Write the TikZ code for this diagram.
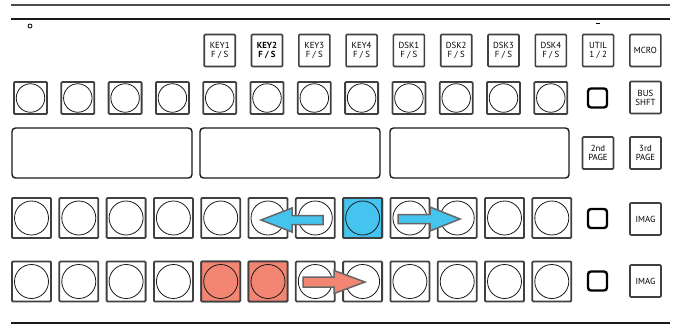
\documentclass[tikz,border=0pt]{standalone}
\usepackage{fontspec}
\setmainfont{PT Sans}
\begin{document}
\begin{tikzpicture}[x=1pt,y=-1pt,
  btnframe/.style={draw=black!75, line width=1.8pt, rounded corners=1pt, fill=white, inner sep=0pt},
  btnring/.style={circle, draw=black!90, line width=0.8pt, inner sep=0pt},
  txtbtn/.style={draw=black!75, line width=1.6pt, rounded corners=1pt, fill=white, inner sep=0pt,
     minimum width=31pt, minimum height=32pt, align=center,
     font=\fontsize{8.8}{9}\selectfont},
  smallsq/.style={draw=black, line width=2.4pt, rounded corners=3pt, inner sep=0pt,
     minimum width=19pt, minimum height=19pt},
  display/.style={draw=black!90, line width=1.4pt, rounded corners=3.5pt, inner sep=0pt},
  rule/.style={line width=2pt, draw=black!90},
  blockarrow/.style={draw=black!60, line width=1.5pt, line join=miter},
  bluefill/.style={fill=skyblue},
  redfill/.style={fill=salmonred}]
\definecolor{skyblue}{HTML}{44C4EF}
\definecolor{salmonred}{HTML}{F28672}
\useasboundingbox (0,0) rectangle (677,325);
% top and bottom rules
\coordinate (t1l) at (11,5); \coordinate (t1r) at (670,5);
\coordinate (t2l) at (11,18.5); \coordinate (t2r) at (670,18.5);
\coordinate (bl) at (11,323); \coordinate (br) at (670,323);
\draw[rule, line width=2.6pt, draw=black!70] (t1l) -- (t1r);
\draw[rule] (t2l) -- (t2r);
\draw[rule] (bl) -- (br);
% small indicator
\node[circle, draw, line width=0.8pt, minimum size=4pt, inner sep=0pt] (led) at (30,26) {};
\coordinate (dsh1) at (595.5,23); \coordinate (dsh2) at (599.5,23);
\draw[line width=0.6pt] (dsh1) -- (dsh2);
% row 1 text buttons
\foreach \k/\t in {4/{KEY1\\F / S},6/{KEY3\\F / S},7/{KEY4\\F / S},8/{DSK1\\F / S},9/{DSK2\\F / S},10/{DSK3\\F / S},11/{DSK4\\F / S},12/{UTIL\\1 / 2},13/{MCRO}}
  \node[txtbtn] (r1c\k) at ({30.5+47.3*\k},50.5) {\t};
\node[txtbtn, font=\fontsize{8.8}{9}\selectfont\bfseries] (r1c5) at ({30.5+47.3*5},50.5) {KEY2\\F / S};
% row 2
\foreach \k in {0,...,11}{
  \node[btnframe, minimum width=33pt, minimum height=32pt] (r2c\k) at ({30.5+47.3*\k},98) {};
  \node[btnring, minimum size=28.5pt] (r2o\k) at (r2c\k) {};
}
\node[smallsq] (r2c12) at (597.5,98) {};
\node[txtbtn] (r2c13) at (645.5,97.5) {BUS\\SHFT};
% row 3 displays
\node[display, minimum width=180pt, minimum height=50pt] (disp1) at (102,153) {};
\node[display, minimum width=180pt, minimum height=50pt] (disp2) at (290,153) {};
\node[display, minimum width=179pt, minimum height=50pt] (disp3) at (479.5,153) {};
\node[txtbtn] (pg2) at (598,153) {2nd\\PAGE};
\node[txtbtn] (pg3) at (645.5,153) {3rd\\PAGE};
% row 4
\foreach \k in {0,...,11}{
  \node[btnframe, minimum width=39pt, minimum height=40pt] (r4c\k) at ({31.5+47.3*\k},218) {};
  \node[btnring, minimum size=34pt] (r4o\k) at (r4c\k) {};
}
\node[btnframe, bluefill, minimum width=39pt, minimum height=40pt] (r4c7b) at (r4c7) {};
\node[btnring, bluefill, minimum size=34pt] (r4o7b) at (r4c7) {};
\node[smallsq] (r4c12) at (597.5,218.5) {};
\node[txtbtn] (r4c13) at (645.5,219) {IMAG};
% row 5
\foreach \k in {0,...,11}{
  \node[btnframe, minimum width=39pt, minimum height=40pt] (r5c\k) at ({31.5+47.3*\k},281.5) {};
  \node[btnring, minimum size=34pt] (r5o\k) at (r5c\k) {};
}
\foreach \k in {4,5}{
  \node[btnframe, redfill, minimum width=39pt, minimum height=40pt] (r5c\k r) at (r5c\k) {};
  \node[btnring, redfill, minimum size=34pt] (r5o\k r) at (r5c\k) {};
}
\node[smallsq] (r5c12) at (597.5,281) {};
\node[txtbtn] (r5c13) at (645.5,281) {IMAG};
% block arrows
\draw[blockarrow, bluefill] (323,215.5) -- (292,215.5) -- (292,208) -- (261,220) -- (292,232) -- (292,224.5) -- (323,224.5) -- cycle;
\draw[blockarrow, bluefill] (398,214.5) -- (430,214.5) -- (430,207) -- (460,219) -- (430,231) -- (430,223.5) -- (398,223.5) -- cycle;
\draw[blockarrow, redfill] (303,277) -- (334,277) -- (334,270.5) -- (365,282) -- (334,293.5) -- (334,287) -- (303,287) -- cycle;
\end{tikzpicture}
\end{document}
